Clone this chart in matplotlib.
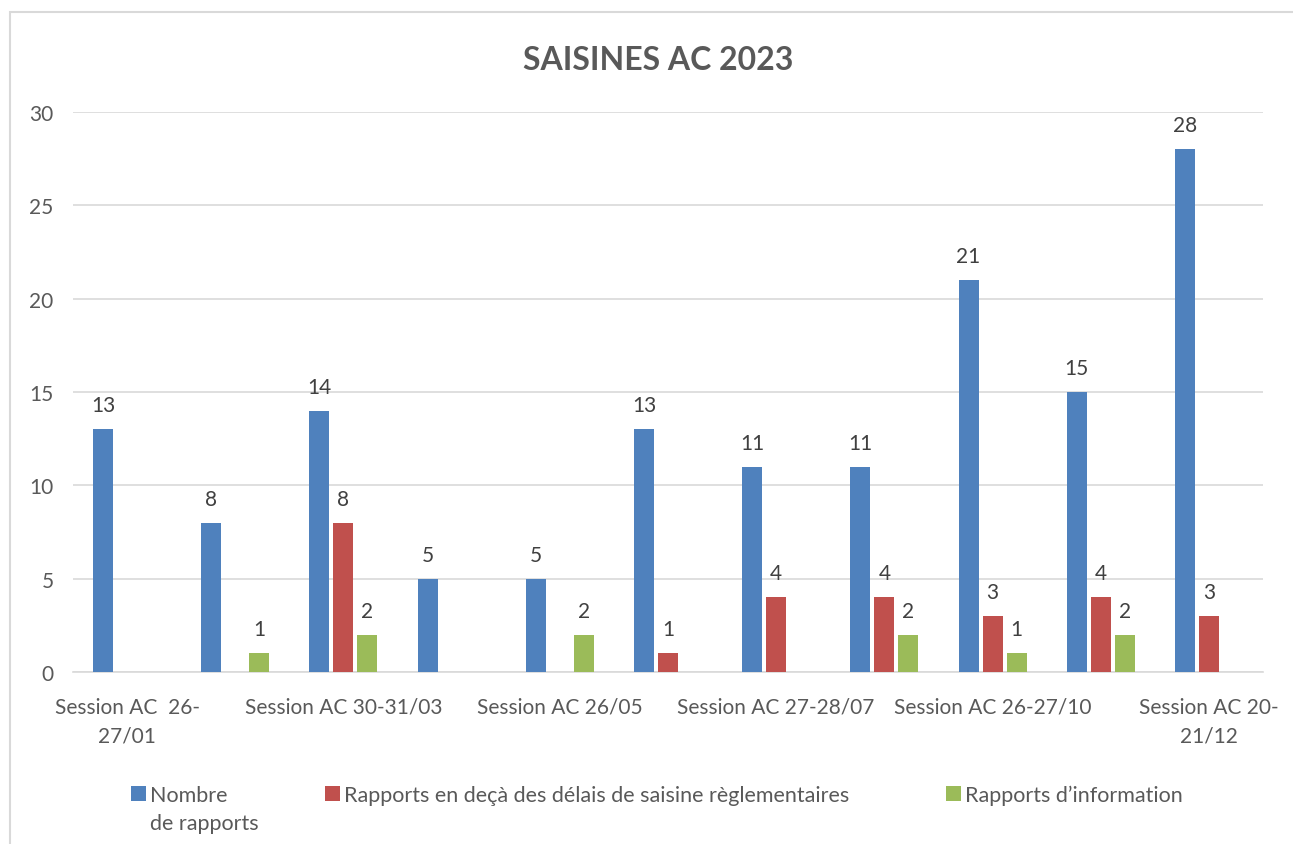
import numpy as np
import matplotlib
matplotlib.use("Agg")
import matplotlib.pyplot as plt
from matplotlib.patches import Rectangle

plt.rcParams['font.family'] = ['Lato', 'DejaVu Sans']

# data
sessions = ["Session AC  26-\n27/01", "", "Session AC 30-31/03", "",
            "Session AC 26/05", "", "Session AC 27-28/07", "",
            "Session AC 26-27/10", "", "Session AC 20-\n21/12"]
nombre = [13, 8, 14, 5, 5, 13, 11, 11, 21, 15, 28]
hors_delai = [None, None, 8, None, None, 1, 4, 4, 3, 4, 3]
information = [None, 1, 2, None, 2, None, None, 2, 1, 2, None]

series_names = ["Nombre",
                "Rapports en deçà des délais de saisine règlementaires",
                "Rapports d\u2019information"]
colors = ["#4F81BD", "#C0504D", "#9BBB59"]
text_col = "#595959"

fig = plt.figure(figsize=(12.93, 8.45), dpi=100)
ax = fig.add_axes([73 / 1293, 1 - 673 / 845, 1190 / 1293, 560 / 845])

x = np.arange(len(nombre))
width = 0.185
step = 0.222
all_series = [nombre, hors_delai, information]
for i, (vals, name, col) in enumerate(zip(all_series, series_names, colors)):
    v = np.array([np.nan if a is None else a for a in vals], dtype=float)
    bars = ax.bar(x + (i - 1) * step, v, width, color=col, label=name, zorder=3)
    for b, val in zip(bars, v):
        if not np.isnan(val):
            ax.text(b.get_x() + b.get_width() / 2, val + 0.75, f"{int(val)}",
                    ha="center", va="bottom", fontsize=15, color="#404040")

ax.set_xlim(-0.5, len(nombre) - 0.5)
ax.set_ylim(0, 30)
ax.set_yticks(range(0, 31, 5))
ax.yaxis.grid(True, color="#D9D9D9", linewidth=1.2, zorder=0)
ax.set_axisbelow(True)

shown = [i for i, s in enumerate(sessions) if s]
ax.set_xticks(shown)
ax.set_xticklabels([sessions[i] for i in shown], fontsize=15, color=text_col,
                   linespacing=1.55)
ax.tick_params(axis="both", length=0, labelsize=15, labelcolor=text_col)
ax.tick_params(axis="x", pad=18)
ax.tick_params(axis="y", pad=14)

for s in ["top", "right", "left"]:
    ax.spines[s].set_visible(False)
ax.spines["bottom"].set_color("#D9D9D9")
ax.spines["bottom"].set_linewidth(1.2)

fig.text(658 / 1293, 1 - 60 / 845, "SAISINES AC 2023", ha="center", va="center",
         fontsize=23, fontweight="bold", color=text_col)

leg = fig.legend(loc="center left", bbox_to_anchor=(120 / 1293, 1 - 796 / 845),
                 ncol=3, frameon=False, fontsize=15.5, handlelength=0.7,
                 handleheight=0.7, handletextpad=0.2, columnspacing=4.5,
                 labelcolor=text_col, borderpad=0)

# second line of the first legend label, placed under "Nombre"
fig.canvas.draw()
bb = leg.get_texts()[0].get_window_extent()
fig.text(bb.x0 / 1293, (bb.y0 - 28) / 845, "de rapports", fontsize=15.5,
         color=text_col, ha="left", va="bottom")

fig.patches.append(Rectangle((10 / 1293, -0.1), 2, 1 - 13 / 845 + 0.1,
                             transform=fig.transFigure, fill=False,
                             edgecolor="#D9D9D9", linewidth=1.5))

fig.savefig("out.png", dpi=100)
